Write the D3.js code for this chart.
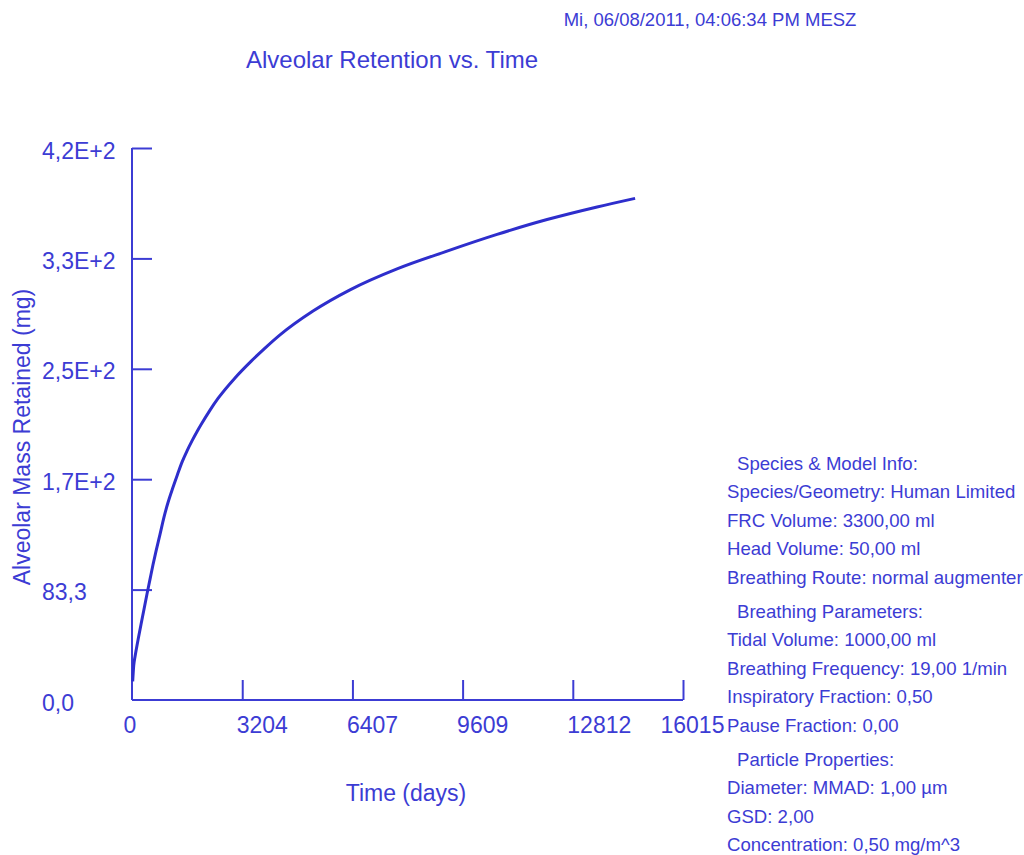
<!DOCTYPE html>
<html>
<head>
<meta charset="utf-8">
<script src="https://cdn.jsdelivr.net/npm/d3@7"></script>
<style>
html, body { margin: 0; padding: 0; background: #ffffff; }
svg { display: block; }
text { font-family: "Liberation Sans", Arial, sans-serif; fill: #3c3cd4; }
</style>
</head>
<body>
<svg id="chart" width="1024" height="855"></svg>
<script>
// ---- data ----
const timeDays = [20, 50, 90, 180, 300, 436, 523, 610, 700, 814, 930, 1047, 1192, 1320, 1454, 1600, 1744, 1900, 2035, 2250, 2500, 2994, 3459, 3866, 4302, 5262, 6337, 7704, 9157, 10611, 12064, 13518, 14623];
const massRetained = [14, 26, 33, 46, 62, 80, 91, 102, 112.5, 125, 138, 149, 160.5, 170, 179.5, 188, 195.5, 203, 209, 218, 227.5, 243, 255.5, 265.5, 275.5, 293.5, 309.5, 325.3, 338.7, 351.3, 362.5, 372, 378.5];

const xTickValues = [3204, 6407, 9609, 12812, 16015];
const xTickLabels = ["3204", "6407", "9609", "12812", "16015"];
const xZeroLabel = "0";
const yTickValues = [0, 83.3, 166.6, 249.9, 333.2, 416.5];
const yTickLabels = ["0,0", "83,3", "1,7E+2", "2,5E+2", "3,3E+2", "4,2E+2"];

const titleText = "Alveolar Retention vs. Time";
const timestampText = "Mi, 06/08/2011, 04:06:34 PM MESZ";
const xLabelText = "Time (days)";
const yLabelText = "Alveolar Mass Retained (mg)";

const infoHeaders = ["Species & Model Info:", "Breathing Parameters:", "Particle Properties:"];
const infoGroups = [
  ["Species/Geometry: Human Limited", "FRC Volume: 3300,00 ml", "Head Volume: 50,00 ml", "Breathing Route: normal augmenter"],
  ["Tidal Volume: 1000,00 ml", "Breathing Frequency: 19,00 1/min", "Inspiratory Fraction: 0,50", "Pause Fraction: 0,00"],
  ["Diameter: MMAD: 1,00 µm", "GSD: 2,00", "Concentration: 0,50 mg/m^3"]
];

// ---- drawing ----
const blue = "#3c3cd4";
const curveBlue = "#2e2ecc";
const svg = d3.select("#chart");

const x = d3.scaleLinear().domain([0, 16015]).range([132, 683]);
const y = d3.scaleLinear().domain([0, 416.5]).range([700, 148]);

// timestamp & title
svg.append("text").attr("x", 710).attr("y", 19).attr("text-anchor", "middle")
  .attr("dominant-baseline", "central").style("font-size", "18.5px").text(timestampText);
svg.append("text").attr("x", 392).attr("y", 59).attr("text-anchor", "middle")
  .attr("dominant-baseline", "central").style("font-size", "24px").text(titleText);

// y axis
const yAxis = d3.axisRight(y).tickValues(yTickValues).tickSize(20)
  .tickFormat((d, i) => yTickLabels[i]);
const gy = svg.append("g").attr("transform", "translate(132,0)").call(yAxis);
gy.select(".domain").attr("stroke", blue).attr("stroke-width", 2).attr("d", "M0," + y(416.5) + "V" + y(0));
gy.selectAll(".tick line").attr("stroke", blue).attr("stroke-width", 2)
  .attr("display", d => d === 0 ? "none" : null);
gy.selectAll(".tick text").attr("x", 42 - 132).attr("dy", null).attr("y", 2)
  .attr("dominant-baseline", "central").attr("text-anchor", "start")
  .style("font-size", "23px").attr("fill", blue);

// x axis
const xAxis = d3.axisTop(x).tickValues(xTickValues).tickSize(20)
  .tickFormat((d, i) => xTickLabels[i]);
const gx = svg.append("g").attr("transform", "translate(0,700)").call(xAxis);
gx.select(".domain").attr("stroke", blue).attr("stroke-width", 2).attr("d", "M" + x(0) + ",0H" + x(16015));
gx.selectAll(".tick line").attr("stroke", blue).attr("stroke-width", 2);
gx.selectAll(".tick text").attr("y", 25).attr("dy", null)
  .attr("dominant-baseline", "central").attr("text-anchor", "start")
  .attr("x", (d, i) => i === xTickValues.length - 1 ? -23 : -6)
  .style("font-size", "23px").attr("fill", blue);
svg.append("text").attr("x", x(0) - 2).attr("y", 725).attr("text-anchor", "middle")
  .attr("dominant-baseline", "central").style("font-size", "23px").text(xZeroLabel);

// axis labels
svg.append("text").attr("x", 406).attr("y", 793).attr("text-anchor", "middle")
  .attr("dominant-baseline", "central").style("font-size", "23px").text(xLabelText);
svg.append("text").attr("transform", "translate(22,437) rotate(-90)").attr("text-anchor", "middle")
  .attr("dominant-baseline", "central").style("font-size", "23px").text(yLabelText);

// curve
const pts = timeDays.map((t, i) => [t, massRetained[i]]);
const line = d3.line().x(d => x(d[0])).y(d => y(d[1])).curve(d3.curveMonotoneX);
svg.append("path").datum(pts).attr("d", line).attr("fill", "none")
  .attr("stroke", curveBlue).attr("stroke-width", 3);

// info panel
const info = svg.append("g");
let yy = 463;
infoGroups.forEach((group, gi) => {
  if (gi > 0) yy += 34;
  info.append("text").attr("x", 737).attr("y", yy).attr("dominant-baseline", "central")
    .style("font-size", "18.6px").text(infoHeaders[gi]);
  group.forEach(line => {
    yy += 28.5;
    info.append("text").attr("x", 727).attr("y", yy).attr("dominant-baseline", "central")
      .style("font-size", "18.6px").text(line);
  });
});
</script>
</body>
</html>
